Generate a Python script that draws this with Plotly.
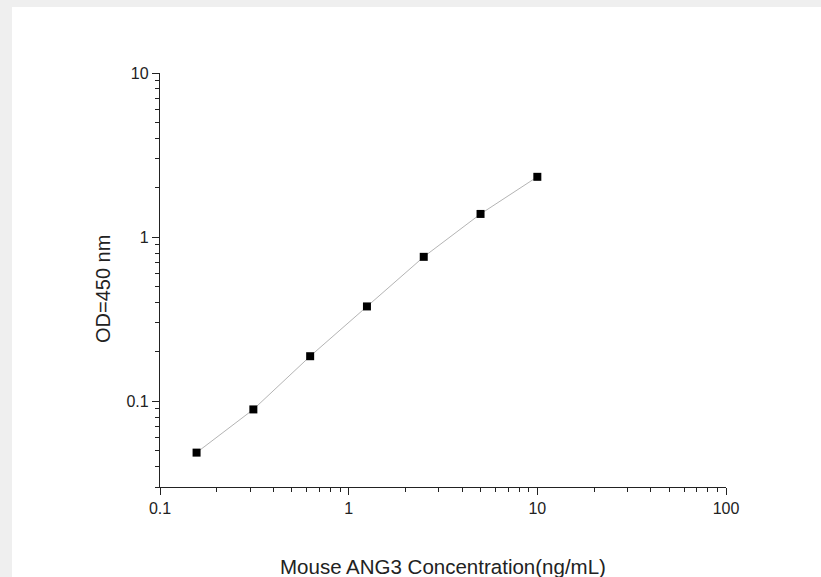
import plotly.graph_objects as go
import math

conc = [0.15625, 0.3125, 0.625, 1.25, 2.5, 5, 10]
od = [0.0486, 0.0891, 0.188, 0.378, 0.758, 1.384, 2.33]
x_ticks = [0.1, 1, 10, 100]
x_tick_labels = ["0.1", "1", "10", "100"]
y_ticks = [0.1, 1, 10]
y_tick_labels = ["0.1", "1", "10"]

W, H = 821, 577
L, R, T, B = 160, 95, 73, 90
pw, ph = W - L - R, H - T - B

fig = go.Figure()
fig.add_trace(go.Scatter(
    x=conc, y=od, mode="lines+markers",
    line=dict(color="#b4b4b4", width=1),
    marker=dict(symbol="square", size=8, color="black"),
    showlegend=False, hoverinfo="skip",
))

axis_common = dict(
    type="log", showgrid=False, zeroline=False,
    showline=True, linecolor="#222222", linewidth=1.3,
    ticks="outside", ticklen=7, tickwidth=1.2, tickcolor="#222222",
    tickfont=dict(family="Liberation Sans, Arial", size=16, color="#222222"),
    minor=dict(ticks="outside", ticklen=4, tickwidth=1, tickcolor="#222222", dtick="D1", showgrid=False),
)

fig.update_xaxes(range=[-1, 2], tickvals=x_ticks, ticktext=x_tick_labels, **axis_common)
fig.update_yaxes(range=[math.log10(0.03), 1], tickvals=y_ticks, ticktext=y_tick_labels, **axis_common)

# white panel on the grey page (12 px grey at left, 7 px at top)
fig.add_shape(type="rect", xref="paper", yref="paper",
              x0=(12 - L) / pw, x1=(W - L + 5) / pw,
              y0=-(B + 5) / ph, y1=1 + (T - 7) / ph,
              fillcolor="white", line=dict(width=0), layer="below")

fig.add_annotation(text="Mouse ANG3 Concentration(ng/mL)", xref="paper", yref="paper",
                   x=0.5, y=-(566 - T - ph) / ph, yanchor="middle", xanchor="center",
                   showarrow=False, font=dict(family="Liberation Sans, Arial", size=20.5, color="#222222"))
fig.add_annotation(text="OD=450 nm", xref="paper", yref="paper",
                   x=(103 - L) / pw, y=1 - (289 - T) / ph, textangle=-90,
                   xanchor="center", yanchor="middle",
                   showarrow=False, font=dict(family="Liberation Sans, Arial", size=20, color="#222222"))

fig.update_layout(
    width=W, height=H,
    margin=dict(l=L, r=R, t=T, b=B),
    paper_bgcolor="#efefef", plot_bgcolor="white",
)

fig.write_html(
    "out.html",
    config={"displayModeBar": False},
    post_script="document.body.style.margin='0';document.body.style.background='#efefef';document.body.style.overflow='hidden';",
)
